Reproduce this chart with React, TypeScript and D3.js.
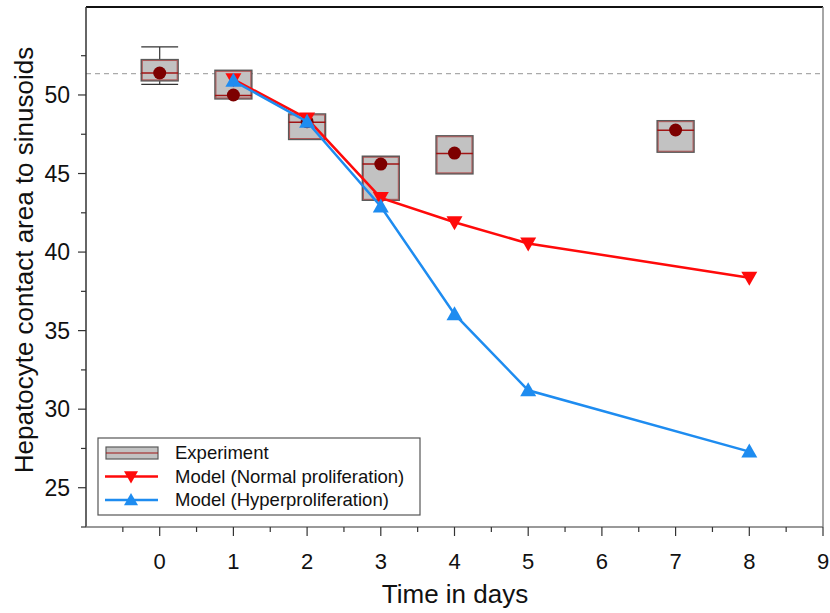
import * as d3 from 'd3'

// Experiment (box plots)
const expDays = [0, 1, 2, 3, 4, 7]
const expQ1 = [50.9, 49.75, 47.17, 43.3, 44.98, 46.36]
const expQ3 = [52.25, 51.57, 48.79, 46.1, 47.4, 48.36]
const expMedian = [51.4, 49.96, 48.26, 45.6, 46.28, 47.75]
const expMean = [51.4, 50.0, 48.3, 45.6, 46.3, 47.77]
const expWhiskLo = [50.68, 49.75, 47.17, 43.3, 44.98, 46.36]
const expWhiskHi = [53.06, 51.57, 48.79, 46.1, 47.4, 48.36]

// Models
const modelDays = [1, 2, 3, 4, 5, 8]
const normalValues = [51.0, 48.5, 43.45, 41.9, 40.55, 38.37]
const hyperValues = [50.9, 48.3, 42.9, 36.05, 31.2, 27.3]

const referenceLevel = 51.36

const xMajorTicks = [0, 1, 2, 3, 4, 5, 6, 7, 8, 9]
const xMinorTicks = [-0.5, 0.5, 1.5, 2.5, 3.5, 4.5, 5.5, 6.5, 7.5, 8.5]
const yMajorTicks = [25, 30, 35, 40, 45, 50]
const yMinorTicks = [22.5, 27.5, 32.5, 37.5, 42.5, 47.5, 52.5]

const legendItems = ['Experiment', 'Model (Normal proliferation)', 'Model (Hyperproliferation)']

const W = 830
const H = 613
const L = 86, R = 823, T = 7, B = 527
const FONT = '"Liberation Sans", Arial, sans-serif'
const RED = '#ff0a0a'
const BLUE = '#1e8cf0'
const DARKRED = '#7d0000'

export default function App() {
  const x = d3.scaleLinear().domain([-1, 9]).range([L, R])
  const y = d3.scaleLinear().domain([22.5, 55.6]).range([B, T])

  const line = d3.line<[number, number]>().x(d => x(d[0])).y(d => y(d[1]))
  const normalPts = modelDays.map((d, i) => [d, normalValues[i]] as [number, number])
  const hyperPts = modelDays.map((d, i) => [d, hyperValues[i]] as [number, number])

  const halfBox = (x(0.25) - x(0))
  const tri = (cx: number, cy: number, up: boolean, s = 8) =>
    up
      ? `M${cx},${cy - s} L${cx + s},${cy + s * 0.75} L${cx - s},${cy + s * 0.75} Z`
      : `M${cx},${cy + s} L${cx + s},${cy - s * 0.75} L${cx - s},${cy - s * 0.75} Z`

  return (
    <svg width={W} height={H} style={{ position: 'fixed', left: 0, top: 0, background: '#fff' }} fontFamily={FONT}>
      {/* frame */}
      <line x1={L} x2={R} y1={T} y2={T} stroke="#111" strokeWidth={2} />
      <line x1={R} x2={R} y1={T} y2={B} stroke="#888" strokeWidth={1.5} />

      {/* reference dashed line */}
      <line x1={L} x2={R} y1={y(referenceLevel)} y2={y(referenceLevel)} stroke="#aaa" strokeWidth={1.2} strokeDasharray="5,4" />

      {/* boxes */}
      {expDays.map((d, i) => {
        const cx = x(d)
        const showWhisk = expWhiskHi[i] > expQ3[i] || expWhiskLo[i] < expQ1[i]
        return (
          <g key={d}>
            {showWhisk && (
              <g stroke="#333" strokeWidth={1.2}>
                <line x1={cx} x2={cx} y1={y(expWhiskHi[i])} y2={y(expQ3[i])} />
                <line x1={cx} x2={cx} y1={y(expQ1[i])} y2={y(expWhiskLo[i])} />
                <line x1={cx - halfBox} x2={cx + halfBox} y1={y(expWhiskHi[i])} y2={y(expWhiskHi[i])} />
                <line x1={cx - halfBox} x2={cx + halfBox} y1={y(expWhiskLo[i])} y2={y(expWhiskLo[i])} />
              </g>
            )}
            <rect x={cx - halfBox} y={y(expQ3[i])} width={2 * halfBox} height={y(expQ1[i]) - y(expQ3[i])}
              fill="#c2c2c2" stroke="#5a5a5a" strokeWidth={1.5} />
            <rect x={cx - halfBox + 1} y={y(expQ3[i]) + 1} width={2 * halfBox - 2} height={y(expQ1[i]) - y(expQ3[i]) - 2}
              fill="none" stroke="#b04545" strokeWidth={0.8} />
            <line x1={cx - halfBox} x2={cx + halfBox} y1={y(expMedian[i])} y2={y(expMedian[i])} stroke="#a01515" strokeWidth={1.5} />
          </g>
        )
      })}
      {expDays.map((d, i) => (
        <circle key={'m' + d} cx={x(d)} cy={y(expMean[i])} r={6.5} fill={DARKRED} />
      ))}

      {/* model lines */}
      <path d={line(normalPts)!} fill="none" stroke={RED} strokeWidth={2.5} />
      {normalPts.map((p, i) => (
        <path key={'n' + i} d={tri(x(p[0]), y(p[1]), false)} fill={RED} />
      ))}
      <path d={line(hyperPts)!} fill="none" stroke={BLUE} strokeWidth={2.5} />
      {hyperPts.map((p, i) => (
        <path key={'h' + i} d={tri(x(p[0]), y(p[1]), true)} fill={BLUE} />
      ))}

      {/* y axis */}
      <line x1={L} x2={L} y1={T} y2={B} stroke="#333" strokeWidth={1.5} />
      {yMajorTicks.map(t => (
        <g key={t}>
          <line x1={L - 8} x2={L} y1={y(t)} y2={y(t)} stroke="#333" strokeWidth={1.2} />
          <text x={L - 16} y={y(t)} dy="0.36em" textAnchor="end" fontSize={23} fill="#111">{t}</text>
        </g>
      ))}
      {yMinorTicks.map(t => (
        <line key={t} x1={L - 5} x2={L} y1={y(t)} y2={y(t)} stroke="#333" strokeWidth={1.2} />
      ))}

      {/* x axis */}
      <line x1={L} x2={R} y1={B} y2={B} stroke="#777" strokeWidth={1.5} />
      {xMajorTicks.map(t => (
        <g key={t}>
          <line x1={x(t)} x2={x(t)} y1={B} y2={B + 9} stroke="#333" strokeWidth={1.2} />
          <text x={x(t)} y={569} textAnchor="middle" fontSize={22} fill="#111">{t}</text>
        </g>
      ))}
      {xMinorTicks.map(t => (
        <line key={t} x1={x(t)} x2={x(t)} y1={B} y2={B + 5} stroke="#333" strokeWidth={1.2} />
      ))}

      {/* axis titles */}
      <text x={455} y={603} textAnchor="middle" fontSize={26} fill="#111">Time in days</text>
      <text transform="translate(33,260) rotate(-90)" textAnchor="middle" fontSize={26} fill="#111">
        Hepatocyte contact area to sinusoids
      </text>

      {/* legend */}
      <g>
        <rect x={98} y={438} width={322} height={77} fill="#fff" stroke="#555" strokeWidth={1.2} />
        {legendItems.map((name, i) => {
          const ly = 453 + i * 23.5
          return (
            <g key={name}>
              {i === 0 && (
                <g>
                  <rect x={106} y={ly - 6} width={52} height={12} fill="#c2c2c2" stroke="#5a5a5a" strokeWidth={1.2} />
                  <line x1={106} x2={158} y1={ly} y2={ly} stroke="#a01515" strokeWidth={1} />
                </g>
              )}
              {i === 1 && (
                <g>
                  <line x1={105} x2={158} y1={ly} y2={ly} stroke={RED} strokeWidth={2.5} />
                  <path d={tri(131, ly, false, 7)} fill={RED} />
                </g>
              )}
              {i === 2 && (
                <g>
                  <line x1={105} x2={158} y1={ly} y2={ly} stroke={BLUE} strokeWidth={2.5} />
                  <path d={tri(131, ly, true, 7)} fill={BLUE} />
                </g>
              )}
              <text x={175} y={ly} dy="0.35em" fontSize={18.5} fill="#111">{name}</text>
            </g>
          )
        })}
      </g>
    </svg>
  )
}
